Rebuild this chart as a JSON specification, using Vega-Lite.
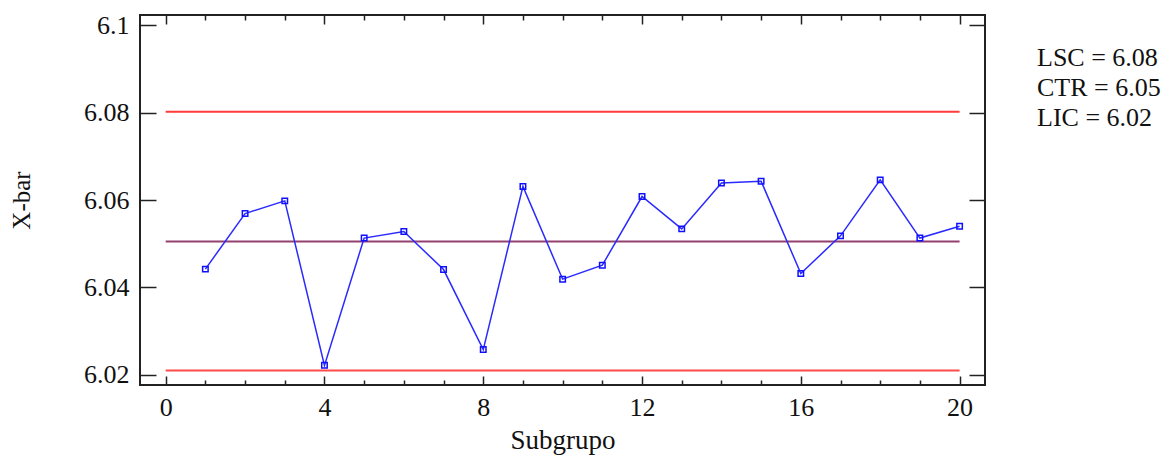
{
  "$schema": "https://vega.github.io/schema/vega-lite/v6.json",
  "autosize": {"type": "none"},
  "padding": {"left": 140, "top": 15, "right": 188, "bottom": 70},
  "width": 845,
  "height": 370,
  "background": "white",
  "config": {
    "view": {"stroke": "#222222", "strokeWidth": 2},
    "font": "Liberation Serif",
    "axis": {"grid": false, "domain": false, "labelFont": "Liberation Serif", "titleFont": "Liberation Serif", "labelColor": "#111111", "titleColor": "#111111", "tickColor": "#222222", "tickWidth": 1.5, "titleFontWeight": "normal"}
  },
  "datasets": {
    "xbar": [
      {"Subgrupo": 1, "Xbar": 6.0442},
      {"Subgrupo": 2, "Xbar": 6.0569},
      {"Subgrupo": 3, "Xbar": 6.0598},
      {"Subgrupo": 4, "Xbar": 6.0222},
      {"Subgrupo": 5, "Xbar": 6.0513},
      {"Subgrupo": 6, "Xbar": 6.0528},
      {"Subgrupo": 7, "Xbar": 6.0441},
      {"Subgrupo": 8, "Xbar": 6.0258},
      {"Subgrupo": 9, "Xbar": 6.0631},
      {"Subgrupo": 10, "Xbar": 6.0419},
      {"Subgrupo": 11, "Xbar": 6.0451},
      {"Subgrupo": 12, "Xbar": 6.0608},
      {"Subgrupo": 13, "Xbar": 6.0534},
      {"Subgrupo": 14, "Xbar": 6.0639},
      {"Subgrupo": 15, "Xbar": 6.0643},
      {"Subgrupo": 16, "Xbar": 6.0432},
      {"Subgrupo": 17, "Xbar": 6.0518},
      {"Subgrupo": 18, "Xbar": 6.0646},
      {"Subgrupo": 19, "Xbar": 6.0513},
      {"Subgrupo": 20, "Xbar": 6.0540}
    ],
    "limits": [
      {"name": "LSC = 6.08", "value": 6.0802},
      {"name": "CTR = 6.05", "value": 6.0505},
      {"name": "LIC = 6.02", "value": 6.021}
    ]
  },
  "layer": [
    {
      "data": {"name": "limits"},
      "mark": {"type": "rule", "strokeWidth": 2},
      "encoding": {
        "x": {"datum": 0, "type": "quantitative", "scale": {"domain": [-0.647, 20.64], "nice": false, "zero": false},
          "axis": {"orient": "bottom", "values": [0,1,2,3,4,5,6,7,8,9,10,11,12,13,14,15,16,17,18,19,20], "labelExpr": "datum.value % 4 === 0 ? datum.label : ''", "tickSize": {"condition": {"test": "datum.value % 4 === 0", "value": -9}, "value": -5}, "labelPadding": 18, "labelFontSize": 26, "labelBaseline": "top", "title": "Subgrupo", "titleFontSize": 27, "titlePadding": 7}},
        "x2": {"datum": 20},
        "y": {"field": "value", "type": "quantitative", "scale": {"domain": [6.01771, 6.10229], "nice": false, "zero": false},
          "axis": {"orient": "left", "values": [6.02, 6.04, 6.06, 6.08, 6.1], "format": ".2~f", "tickSize": -16, "labelPadding": 27, "labelFontSize": 26, "title": "X-bar", "titleFontSize": 25, "titlePadding": 49}},
        "color": {"field": "name", "type": "nominal",
          "scale": {"domain": ["LSC = 6.08", "CTR = 6.05", "LIC = 6.02"], "range": ["#ff3a3a", "#934070", "#ff4a4a"]},
          "legend": {"orient": "none", "legendX": 871, "legendY": 30, "title": null, "symbolSize": 0, "symbolStrokeWidth": 0, "labelOffset": 0, "labelFontSize": 26, "labelFont": "Liberation Serif", "labelColor": "#111111", "rowPadding": 4, "labelLimit": 300}}
      }
    },
    {
      "data": {"name": "xbar"},
      "mark": {"type": "line", "color": "#2a2aff", "strokeWidth": 1.5, "point": {"shape": "square", "filled": false, "size": 30, "color": "#1010ff", "strokeWidth": 1.5}},
      "encoding": {
        "x": {"field": "Subgrupo", "type": "quantitative",
          "axis": {"orient": "top", "values": [0,1,2,3,4,5,6,7,8,9,10,11,12,13,14,15,16,17,18,19,20], "labels": false, "title": null, "tickSize": {"condition": {"test": "datum.value % 4 === 0", "value": -9}, "value": -5}}},
        "y": {"field": "Xbar", "type": "quantitative",
          "axis": {"orient": "right", "values": [6.02, 6.04, 6.06, 6.08, 6.1], "labels": false, "title": null, "tickSize": -16}}
      }
    }
  ],
  "resolve": {"axis": {"x": "independent", "y": "independent"}}
}
